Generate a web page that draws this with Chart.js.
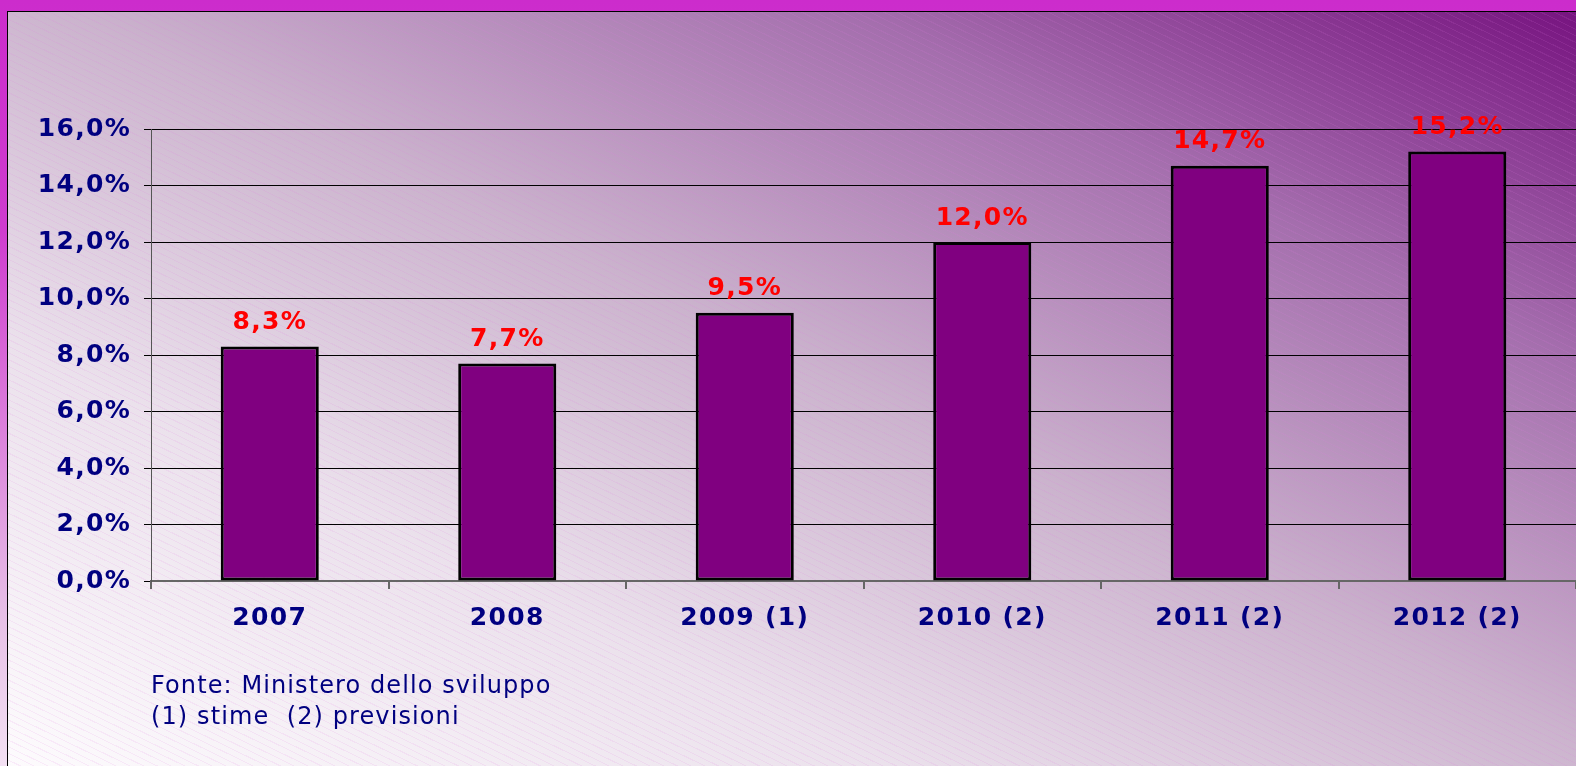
<!DOCTYPE html>
<html>
<head>
<meta charset="utf-8">
<script src="https://cdn.jsdelivr.net/npm/chart.js@4/dist/chart.umd.min.js"></script>
<style>
    html, body { margin: 0; padding: 0; }
    body {
        width: 1576px;
        height: 766px;
        overflow: hidden;
        position: relative;
        background: linear-gradient(to bottom, #cc2ccc 0%, #cf3ccf 30%, #e6bfe6 80%, #f3e0f3 100%);
    }
    #frame {
        position: absolute;
        left: 7px;
        top: 11px;
        right: 0;
        bottom: 0;
        border-left: 1px solid #000;
        border-top: 1px solid #000;
        background:
            repeating-linear-gradient(26deg, rgba(225, 120, 225, 0) 0px, rgba(225, 120, 225, 0) 5px, rgba(225, 120, 225, 0.12) 5px, rgba(225, 120, 225, 0.12) 6px),
            linear-gradient(to top right, #fdfbfd 0%, #ebe1ec 28%, #cbb3cd 52%, #a46ead 77%, #771480 100%);
    }
    #chartBox {
        position: absolute;
        left: 0;
        top: 0;
        width: 1576px;
        height: 766px;
    }
    .note {
        position: absolute;
        left: 151px;
        font-family: "DejaVu Sans", Verdana, sans-serif;
        font-size: 24px;
        letter-spacing: 1.1px;
        color: #000080;
        white-space: pre;
    }
</style>
</head>
<body>
<div id="frame"></div>
<div id="chartBox"><canvas id="growthChart"></canvas></div>
<div class="note" style="top: 671px;">Fonte: Ministero dello sviluppo</div>
<div class="note" style="top: 702px;">(1) stime  (2) previsioni</div>

<script>
const years = ['2007', '2008', '2009 (1)', '2010 (2)', '2011 (2)', '2012 (2)'];
const shares = [8.3, 7.7, 9.5, 12.0, 14.7, 15.2];
const yTicks = [0, 2, 4, 6, 8, 10, 12, 14, 16];

const fontFamily = '"DejaVu Sans", Verdana, sans-serif';
const spacing = '1.3px';

function percentLabel(v) {
    return v.toFixed(1).replace('.', ',') + '%';
}

// widen the text a bit, closer to the original Verdana look
const wideText = {
    id: 'wideText',
    beforeLayout(chart) { chart.ctx.letterSpacing = spacing; },
    beforeDraw(chart) { chart.ctx.letterSpacing = spacing; }
};

// red value labels above every bar
const valueLabels = {
    id: 'valueLabels',
    afterDatasetsDraw(chart) {
        const ctx = chart.ctx;
        const meta = chart.getDatasetMeta(0);
        ctx.save();
        ctx.letterSpacing = spacing;
        ctx.font = 'bold 25px ' + fontFamily;
        ctx.fillStyle = '#ff0000';
        ctx.textAlign = 'center';
        ctx.textBaseline = 'middle';
        meta.data.forEach((bar, i) => {
            ctx.fillText(percentLabel(shares[i]), bar.x, bar.y - 24);
        });
        ctx.restore();
    }
};

const ctx = document.querySelector('#growthChart').getContext('2d');

new Chart(ctx, {
    type: 'bar',
    data: {
        labels: years,
        datasets: [{
            data: shares,
            backgroundColor: '#800080',
            borderColor: '#000000',
            borderWidth: 3,
            borderSkipped: false,
            categoryPercentage: 1,
            barPercentage: 0.413
        }]
    },
    options: {
        responsive: true,
        maintainAspectRatio: false,
        animation: false,
        layout: {
            padding: { top: 129, left: 0, right: 0, bottom: 0 }
        },
        plugins: {
            legend: { display: false },
            tooltip: { enabled: false }
        },
        scales: {
            x: {
                afterFit(scale) { scale.height = 185; },
                grid: {
                    drawOnChartArea: false,
                    drawTicks: true,
                    tickLength: 8,
                    color: '#666666',
                    lineWidth: 2
                },
                border: { color: '#666666', width: 2 },
                ticks: {
                    color: '#000080',
                    padding: 14,
                    font: { family: fontFamily, size: 25, weight: 'bold' }
                }
            },
            y: {
                min: 0,
                max: 16,
                afterFit(scale) { scale.width = 151; },
                afterBuildTicks(scale) {
                    scale.ticks = yTicks.map(v => ({ value: v }));
                },
                grid: {
                    color: '#000000',
                    lineWidth: 1,
                    tickLength: 7
                },
                border: { color: '#555555', width: 1 },
                ticks: {
                    color: '#000080',
                    padding: 13,
                    font: { family: fontFamily, size: 25, weight: 'bold' },
                    callback: (v) => percentLabel(v)
                }
            }
        }
    },
    plugins: [wideText, valueLabels]
});
</script>
</body>
</html>
